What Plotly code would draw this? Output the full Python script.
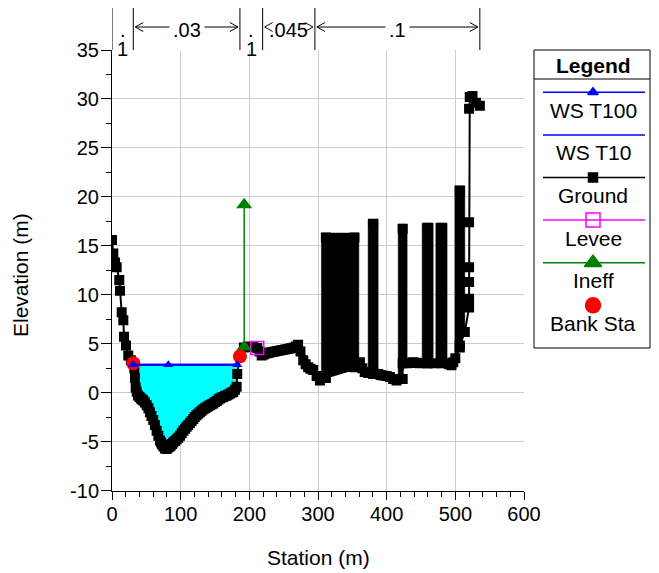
import plotly.graph_objects as go

# The page body has an 8 px margin, so the figure is drawn 8 px in from the
# window's top-left corner; all layout pixel values below are given in window
# coordinates and shifted by OFF.
OFF = 8
W, H = 659 - OFF, 573 - OFF
VISIBLE_RIGHT = 651  # right-most window column that shows in the screenshot
FONT = "Liberation Sans, Arial, sans-serif"

# ---------------- data ----------------
left_bank_sta = [0, 1.9, 4.4, 6.8, 10.6, 11.6, 14.1, 16.5, 17.5, 20.4,
                 23.7, 27.5, 31, 32.5, 33.5]
left_bank_elev = [15.6, 14.2, 13.3, 12.8, 11.5, 10.4, 8.2, 7.4, 5.7, 4.8,
                  3.8, 3.3, 3.0, 2.5, 1.5]

channel_sta = [34.5, 36, 38, 40, 42, 44, 45.6, 48, 50.5, 53,
               55.3, 57.5, 60.1, 62.5, 65, 67.5, 69.9, 71.5, 73, 75,
               77.1, 79.5, 82, 84, 85.5, 87.5, 89.2, 91.5, 94, 96.5,
               99, 101.5, 104, 106.5, 108.7, 111, 113.5, 116, 118.4, 120.5,
               123, 125.5, 128, 130.5, 133, 135.5, 137.8, 140, 142.5, 145,
               147.5, 150, 152.5, 155, 157.2, 159.5, 162, 164.5, 167, 169.5,
               172, 174.5, 176.6, 179, 181.5, 182.4]
channel_elev = [0.5, 0.1, -0.3, -0.45, -0.6, -0.7, -0.8, -1.0, -1.3, -1.6,
                -2.0, -2.4, -2.8, -3.3, -3.9, -4.4, -4.9, -5.1, -5.3, -5.5,
                -5.7, -5.75, -5.6, -5.5, -5.4, -5.25, -5.1, -4.95, -4.8, -4.6,
                -4.4, -4.15, -3.9, -3.7, -3.5, -3.3, -3.1, -2.9, -2.7, -2.5,
                -2.3, -2.15, -2.0, -1.85, -1.7, -1.6, -1.5, -1.4, -1.3, -1.2,
                -1.1, -0.95, -0.85, -0.7, -0.6, -0.5, -0.45, -0.35, -0.3, -0.2,
                -0.1, 0.0, 0.05, 0.3, 0.6, 1.9]

overbank_sta = [186.3, 192, 200, 206, 211.5, 215, 218, 221, 224, 227,
                230, 233.5, 237, 241, 244.5, 248, 252, 255.5, 259, 262,
                265, 268, 271, 274.5, 278.5, 282, 285.7, 289, 293, 298,
                302.8]
overbank_elev = [3.7, 4.6, 4.7, 4.65, 4.55, 4.2, 3.8, 3.9, 4.0, 4.05,
                 4.1, 4.15, 4.2, 4.25, 4.3, 4.35, 4.4, 4.45, 4.5, 4.55,
                 4.6, 4.7, 4.9, 4.2, 3.3, 2.9, 2.6, 2.45, 2.3, 1.7,
                 1.25]

obstr_sta = [311.5, 311.5, 353, 353, 361, 364.5, 368, 373, 380.3, 380.3,
             380.3, 387.6, 391, 395, 400, 404.7, 409.5, 414.4, 423.3, 423.3,
             423.3, 429.8, 434, 438.6, 443.5, 448.3, 459.7, 459.7, 459.7, 469.7,
             479.8, 479.8, 479.8, 488, 491, 494.4, 497, 500, 506.5, 506.5,
             506.5, 513.8]
obstr_elev = [1.5, 15.85, 15.85, 2.6, 3.1, 2.5, 2.1, 2.0, 2.0, 17.25,
              1.9, 1.9, 1.8, 1.75, 1.7, 1.6, 1.4, 1.25, 1.4, 16.75,
              3.0, 3.0, 3.05, 3.1, 3.05, 3.0, 3.0, 16.85, 3.0, 3.0,
              3.0, 16.85, 3.1, 3.0, 2.9, 2.8, 3.1, 3.5, 4.6, 20.65,
              4.8, 6.2]

right_bank_sta = [520, 520, 520, 520, 520, 520, 521, 525, 530, 535.7]
right_bank_elev = [8.7, 9.6, 11.3, 12.8, 17.4, 29.0, 30.2, 30.3, 29.6, 29.3]

ground_sta = left_bank_sta + channel_sta + overbank_sta + obstr_sta + right_bank_sta
ground_elev = left_bank_elev + channel_elev + overbank_elev + obstr_elev + right_bank_elev
assert len(ground_sta) == len(ground_elev)

# solid obstruction blocks in the ground profile
block_left = [305, 373, 416.8, 451.7, 471.6, 499.3]
block_right = [359.5, 387.6, 429.8, 467.7, 488, 513.8]
block_top = [16.3, 17.7, 17.2, 17.3, 17.3, 21.1]
block_base_left = [1.3, 2.0, 1.3, 3.0, 3.0, 3.6]
block_base_right = [2.45, 2.0, 3.0, 3.0, 3.1, 6.0]

ws_t100_sta = [30.5, 82, 182.4]
ws_t100_elev = [2.85, 2.85, 2.85]
ws_t10_sta = [30.5, 182.4]
ws_t10_elev = [2.85, 2.85]

levee_sta = [211.5]
levee_elev = [4.55]

ineff_sta = [192.5, 192.5]
ineff_elev = [4.65, 19.2]

bank_sta = [31, 186.3]
bank_elev = [3.0, 3.7]

n_bounds = [0, 31, 186.3, 219.4, 295.5, 535.7]
n_values = [".1", ".03", ".1", ".045", ".1"]

x_ticks = [0, 100, 200, 300, 400, 500, 600]
y_ticks = [-10, -5, 0, 5, 10, 15, 20, 25, 30, 35]

legend_names = ["WS T100", "WS T10", "Ground", "Levee", "Ineff", "Bank Sta"]

# ---------------- layout geometry (window pixels) ----------------
PL, PR, PT, PB = 112, 524, 50, 490.5
X_RANGE = [0, 600]
Y_RANGE = [-10, 35]
px_per_m = (PR - PL) / (X_RANGE[1] - X_RANGE[0])


def paper_x(p):
    return (p - OFF) / W


def paper_y(p):
    return 1 - (p - OFF) / H


fig = go.Figure()

# water fill (WS T100 down to ground)
ws = ws_t100_elev[0]
fill_x, fill_y = [ws_t100_sta[0]], [ws]
for s, e in zip(ground_sta, ground_elev):
    if ws_t100_sta[0] < s <= ws_t100_sta[-1] and e < ws:
        fill_x.append(s)
        fill_y.append(e)
fill_x.append(ws_t100_sta[-1])
fill_y.append(ws)
fig.add_trace(go.Scatter(x=fill_x, y=fill_y, mode="lines", fill="toself",
                         fillcolor="#00FFFF", line=dict(width=0),
                         hoverinfo="skip", showlegend=False))

# solid blocks
bx, by = [], []
for l, r, t, bl, br in zip(block_left, block_right, block_top,
                           block_base_left, block_base_right):
    bx += [l, l, r, r, None]
    by += [bl, t, t, br, None]
fig.add_trace(go.Scatter(x=bx, y=by, mode="lines", fill="toself",
                         fillcolor="black", line=dict(width=0.5, color="black"),
                         hoverinfo="skip", showlegend=False))

# ground
fig.add_trace(go.Scatter(x=ground_sta, y=ground_elev, mode="lines+markers",
                         line=dict(color="black", width=2),
                         marker=dict(symbol="square", size=10, color="black"),
                         name="Ground", showlegend=False))
# levee
fig.add_trace(go.Scatter(x=levee_sta, y=levee_elev, mode="markers",
                         marker=dict(symbol="square-open", size=13, color="#FF00FF",
                                     line=dict(width=1.5, color="#FF00FF")),
                         name="Levee", showlegend=False))
# ineffective
fig.add_trace(go.Scatter(x=ineff_sta, y=ineff_elev, mode="lines+markers",
                         line=dict(color="#008000", width=1.5),
                         marker=dict(symbol="triangle-up", size=14, color="#008000"),
                         name="Ineff", showlegend=False))
# bank stations
fig.add_trace(go.Scatter(x=bank_sta, y=bank_elev, mode="markers",
                         marker=dict(symbol="circle", size=14, color="#FF0000"),
                         name="Bank Sta", showlegend=False))
# WS T10
fig.add_trace(go.Scatter(x=ws_t10_sta, y=ws_t10_elev, mode="lines",
                         line=dict(color="#0000FF", width=2),
                         name="WS T10", showlegend=False))
# WS T100
fig.add_trace(go.Scatter(x=ws_t100_sta, y=ws_t100_elev, mode="lines+markers",
                         line=dict(color="#0000FF", width=2),
                         marker=dict(symbol="triangle-up", size=9, color="#0000FF"),
                         name="WS T100", showlegend=False))

# ---------------- custom legend (pixel subplot x2/y2, window coords) ----------------
LEG_X0, LEG_X1, LEG_Y0, LEG_Y1, LEG_HDR = 534, VISIBLE_RIGHT - 1, 50, 348, 79
row0, row_step, txt_off = 92.3, 42.6, 18
lx0, lx1 = 543, LEG_X1 - 5
lxm = (LEG_X0 + LEG_X1) / 2 + 1
leg_styles = [
    dict(line="#0000FF", lw=1.5, sym="triangle-up", size=9, mcol="#0000FF"),
    dict(line="#0000FF", lw=1.5, sym=None),
    dict(line="black", lw=1.5, sym="square", size=9, mcol="black"),
    dict(line="#FF00FF", lw=1.5, sym="square-open", size=14, mcol="#FF00FF"),
    dict(line="#008000", lw=1.5, sym="triangle-up", size=15, mcol="#008000"),
    dict(line=None, sym="circle", size=15, mcol="#FF0000"),
]
annotations = []
shapes = []
for i, (name, st) in enumerate(zip(legend_names, leg_styles)):
    ry = row0 + i * row_step
    if st.get("line"):
        fig.add_trace(go.Scatter(x=[lx0, lx1], y=[ry, ry], mode="lines",
                                 line=dict(color=st["line"], width=st["lw"]),
                                 xaxis="x2", yaxis="y2", hoverinfo="skip",
                                 showlegend=False))
    if st.get("sym"):
        fig.add_trace(go.Scatter(x=[lxm], y=[ry], mode="markers",
                                 marker=dict(symbol=st["sym"], size=st["size"],
                                             color=st["mcol"],
                                             line=dict(width=1.5, color=st["mcol"])),
                                 xaxis="x2", yaxis="y2", hoverinfo="skip",
                                 showlegend=False))
    annotations.append(dict(x=lxm, y=ry + txt_off, xref="x2", yref="y2",
                            text=name, showarrow=False, xanchor="center",
                            yanchor="middle", font=dict(size=21, color="black")))
annotations.append(dict(x=lxm, y=(LEG_Y0 + LEG_HDR) / 2 + 0.5,
                        xref="x2", yref="y2", text="<b>Legend</b>", showarrow=False,
                        xanchor="center", yanchor="middle",
                        font=dict(size=21, color="black")))
shapes.append(dict(type="rect", xref="x2", yref="y2", x0=LEG_X0, x1=LEG_X1,
                   y0=LEG_Y0, y1=LEG_Y1, line=dict(color="black", width=1)))
shapes.append(dict(type="line", xref="x2", yref="y2", x0=LEG_X0, x1=LEG_X1,
                   y0=LEG_HDR, y1=LEG_HDR, line=dict(color="black", width=1)))

# axis titles
annotations.append(dict(x=(PL + PR) / 2, y=557, xref="x2", yref="y2",
                        text="Station (m)", showarrow=False, xanchor="center",
                        yanchor="middle", font=dict(size=21)))
annotations.append(dict(x=20, y=275, xref="x2", yref="y2", text="Elevation (m)",
                        textangle=-90, showarrow=False, xanchor="center",
                        yanchor="middle", font=dict(size=21)))

# ---------------- Manning's n bar above plot ----------------
ARROW_Y = 27
TEXT_Y = 30
tip_gap = 2 / px_per_m
chev_dx = 8 / px_per_m
chev_dy = 4.5 / H
for b in n_bounds:
    shapes.append(dict(type="line", xref="x", yref="paper", x0=b, x1=b,
                       y0=min(1.0, paper_y(5)), y1=paper_y(PT),
                       line=dict(color="black", width=1)))
for l, r, val in zip(n_bounds[:-1], n_bounds[1:], n_values):
    wpx = (r - l) * px_per_m
    mid = (l + r) / 2
    if wpx < 35:
        annotations.append(dict(x=mid, y=paper_y(TEXT_Y), xref="x", yref="paper",
                                text=val[0], showarrow=False, xanchor="center",
                                yanchor="middle", font=dict(size=20)))
        annotations.append(dict(x=mid, y=paper_y(TEXT_Y + 19), xref="x", yref="paper",
                                text=val[1:], showarrow=False, xanchor="center",
                                yanchor="middle", font=dict(size=20)))
        continue
    a, c = l + tip_gap, r - tip_gap
    yy = paper_y(ARROW_Y)
    shapes.append(dict(type="path", xref="x", yref="paper",
                       path=f"M {a + chev_dx},{yy + chev_dy} L {a},{yy} L {a + chev_dx},{yy - chev_dy}",
                       line=dict(color="black", width=1)))
    shapes.append(dict(type="path", xref="x", yref="paper",
                       path=f"M {c - chev_dx},{yy + chev_dy} L {c},{yy} L {c - chev_dx},{yy - chev_dy}",
                       line=dict(color="black", width=1)))
    wide = wpx > 60
    if wide:
        shapes.append(dict(type="line", xref="x", yref="paper", x0=a, x1=c,
                           y0=yy, y1=yy, line=dict(color="black", width=1)))
    annotations.append(dict(x=mid, y=paper_y(TEXT_Y), xref="x", yref="paper",
                            text=val, showarrow=False, xanchor="center",
                            yanchor="middle", font=dict(size=20),
                            bgcolor="white" if wide else None, borderpad=3))

fig.update_layout(
    width=W, height=H,
    margin=dict(l=0, r=0, t=0, b=0, pad=0),
    paper_bgcolor="white", plot_bgcolor="rgba(0,0,0,0)",
    font=dict(family=FONT, size=20, color="black"),
    showlegend=False,
    xaxis=dict(domain=[paper_x(PL), paper_x(PR)], range=X_RANGE, tickvals=x_ticks,
               ticktext=[str(v) for v in x_ticks],
               ticks="outside", ticklen=8, tickwidth=1, tickcolor="black",
               ticklabelstandoff=-3,
               showline=True, linecolor="black", linewidth=1,
               showgrid=True, gridcolor="#cccccc", gridwidth=1, zeroline=False,
               minor=dict(dtick=20, tick0=0, ticks="outside", ticklen=5,
                          tickcolor="black", showgrid=False),
               tickfont=dict(size=20), automargin=False, anchor="y"),
    yaxis=dict(domain=[paper_y(PB), paper_y(PT)], range=Y_RANGE, tickvals=y_ticks,
               ticktext=[str(v) for v in y_ticks],
               ticks="outside", ticklen=10, tickwidth=1, tickcolor="black",
               ticklabelstandoff=-2,
               showline=True, linecolor="black", linewidth=1,
               showgrid=True, gridcolor="#cccccc", gridwidth=1, zeroline=False,
               minor=dict(dtick=2.5, tick0=0, ticks="outside", ticklen=5,
                          tickcolor="black", showgrid=False),
               tickfont=dict(size=20), automargin=False, anchor="x"),
    xaxis2=dict(domain=[0, 1], range=[OFF, W + OFF], visible=False, anchor="y2",
                fixedrange=True),
    yaxis2=dict(domain=[0, 1], range=[H + OFF, OFF], visible=False, anchor="x2",
                fixedrange=True),
    annotations=annotations,
    shapes=shapes,
)

fig.write_html("out.html")
